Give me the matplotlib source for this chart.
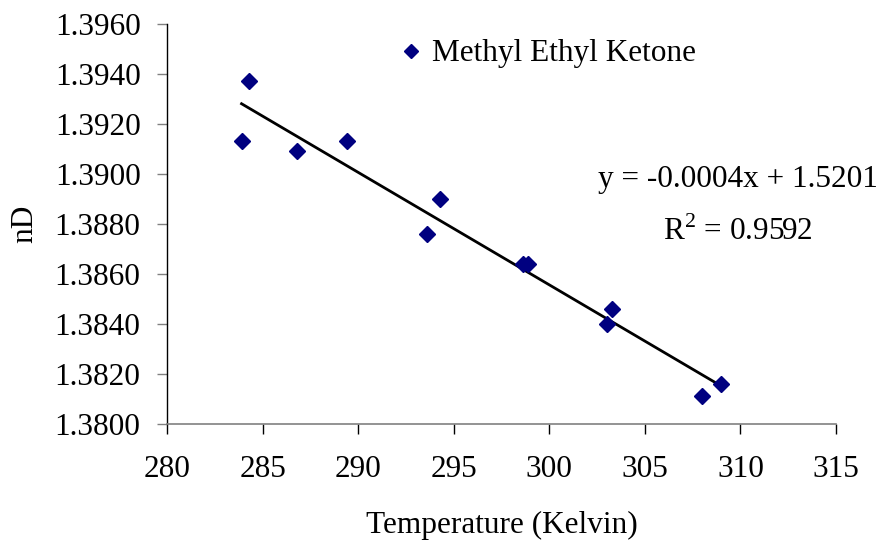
import numpy as np
import matplotlib
matplotlib.use("Agg")
import matplotlib.pyplot as plt

temperature = [283.9, 284.3, 286.8, 289.4, 294.3, 293.6, 298.6, 298.9, 303.3, 303.0, 309.0, 308.0]
nD = [1.3913, 1.3937, 1.3909, 1.3913, 1.3890, 1.3876, 1.3864, 1.3864, 1.3846, 1.3840, 1.3816, 1.3811]
xticks = [280, 285, 290, 295, 300, 305, 310, 315]
yticks = [1.3800, 1.3820, 1.3840, 1.3860, 1.3880, 1.3900, 1.3920, 1.3940, 1.3960]
series_name = "Methyl Ethyl Ketone"
eq_text = "y = -0.0004x + 1.5201"
r2_text = "R$^2$ = 0.9592"

plt.rcParams['font.family'] = ['Liberation Serif', 'DejaVu Serif']
plt.rcParams['mathtext.fontset'] = 'custom'
plt.rcParams['mathtext.rm'] = 'Liberation Serif'

FS = 22.5
W, H = 886, 546
fig = plt.figure(figsize=(W / 100, H / 100), dpi=100)
ax = fig.add_axes([167 / W, 1 - 424 / H, (836 - 167) / W, (424 - 24) / H])

x = np.array(temperature)
y = np.array(nD)
ax.plot(x, y, linestyle='none', marker='D', markersize=8, color='#000080', label=series_name, zorder=3)
coef = np.polyfit(x, y, 1)
xs = np.array([x.min(), x.max()])
ax.plot(xs, np.polyval(coef, xs), color='black', linewidth=2.0, zorder=2)

ax.set_xlim(280, 315)
ax.set_ylim(1.38, 1.396)
ax.set_xticks(xticks)
ax.set_xticklabels([str(t) for t in xticks])
ax.set_yticks(yticks)
ax.set_yticklabels([f"{t:.4f}" for t in yticks])

for s in ['top', 'right']:
    ax.spines[s].set_visible(False)
ax.spines['left'].set_color('black')
ax.spines['bottom'].set_color('#808080')
ax.spines['left'].set_linewidth(1.0)
ax.spines['bottom'].set_linewidth(1.2)
ax.tick_params(axis='y', direction='out', length=7, width=1, color='#808080', labelsize=FS, pad=12)
ax.tick_params(axis='x', direction='out', length=7, width=1, color='black', labelsize=FS, pad=15)

ax.set_xlabel("Temperature (Kelvin)", fontsize=FS, labelpad=20)
ax.set_ylabel("nD", fontsize=FS, labelpad=11)

leg = ax.legend(loc='center left', bbox_to_anchor=(395 / W, 1 - 54 / H), bbox_transform=fig.transFigure,
                frameon=False, fontsize=FS, borderpad=0, borderaxespad=0,
                handletextpad=0.2, handlelength=1.0, markerscale=0.9)

fig.text(738 / W, 1 - 180 / H, eq_text, ha='center', va='center', fontsize=FS)
fig.text(738 / W, 1 - 232 / H, r2_text, ha='center', va='center', fontsize=FS)

fig.savefig("out.png", dpi=100)
